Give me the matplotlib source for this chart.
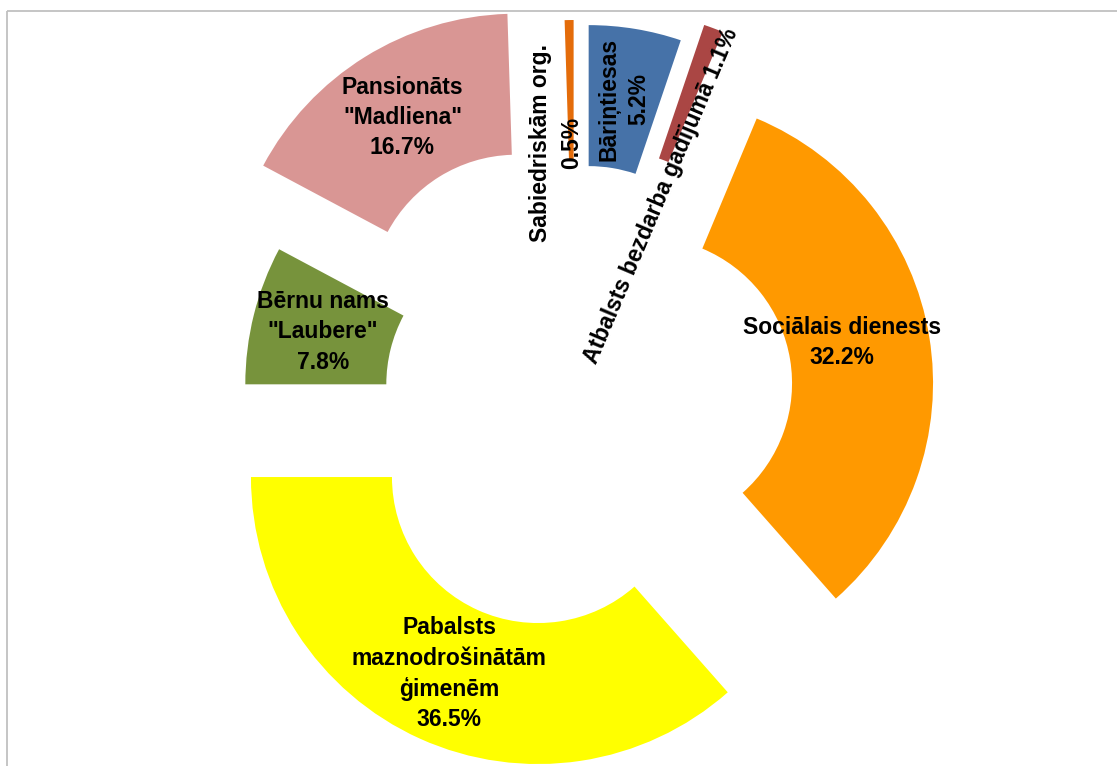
import matplotlib
matplotlib.use("Agg")
import matplotlib.pyplot as plt
import numpy as np

# ---- data (clockwise from 12 o'clock) ----
categories = ["Bāriņtiesas", "Atbalsts bezdarba gadījumā", "Sociālais dienests",
              "Pabalsts\nmaznodrošinātām\nģimenēm", "Bērnu nams\n\"Laubere\"",
              "Pansionāts\n\"Madliena\"", "Sabiedriskām org."]
values = [5.2, 1.1, 32.2, 36.5, 7.8, 16.7, 0.5]

# ---- style ----
colors = ["#4672A8", "#AA4644", "#FF9900", "#FFFF00", "#77933C", "#D99694", "#E46C0A"]
W, H = 1117, 766
center = (575, H - 395)
R = 287
ring = 141
explode = [84, 105, 72, 90, 44, 111, 88]
label_sep = ["\n", " ", "\n", "\n", "\n", "\n", "\n"]
label_r = [216, 112, 200, 216, 216, 216, 164]
label_t = [0, 10, -8, 0, 0, 0, -15]
label_rot = [90, 67, 0, 0, 0, 0, 90]

plt.rcParams['font.family'] = ['Liberation Sans', 'DejaVu Sans']

fig = plt.figure(figsize=(W / 100, H / 100), dpi=100)
ax = fig.add_axes([0, 0, 1, 1])

wedges, _ = ax.pie(values, explode=explode, colors=colors, startangle=90,
                   counterclock=False, radius=R, center=center,
                   wedgeprops=dict(width=ring, linewidth=0, edgecolor='none'))

ax.set_xlim(0, W)
ax.set_ylim(0, H)
ax.set_aspect('equal')
ax.axis('off')

for w, cat, val, sep, lr, lt, rot in zip(wedges, categories, values, label_sep,
                                          label_r, label_t, label_rot):
    th = np.deg2rad((w.theta1 + w.theta2) / 2)
    cx, cy = w.center
    ux, uy = np.cos(th), np.sin(th)
    nx, ny = np.sin(th), -np.cos(th)
    x = cx + lr * ux + lt * nx
    y = cy + lr * uy + lt * ny
    ax.text(x, y, f"{cat}{sep}{val:.1f}%", ha='center', va='center',
            multialignment='center', rotation=rot, fontsize=16.5,
            fontweight='bold', color='black', linespacing=1.4, zorder=5)

# chart frame lines (top and left)
ax.plot([7, W], [H - 11, H - 11], color='#c0c0c0', lw=1.3, solid_capstyle='butt', clip_on=False)
ax.plot([7, 7], [H - 11, 0], color='#c0c0c0', lw=1.3, solid_capstyle='butt', clip_on=False)

fig.savefig("out.png", dpi=100)
